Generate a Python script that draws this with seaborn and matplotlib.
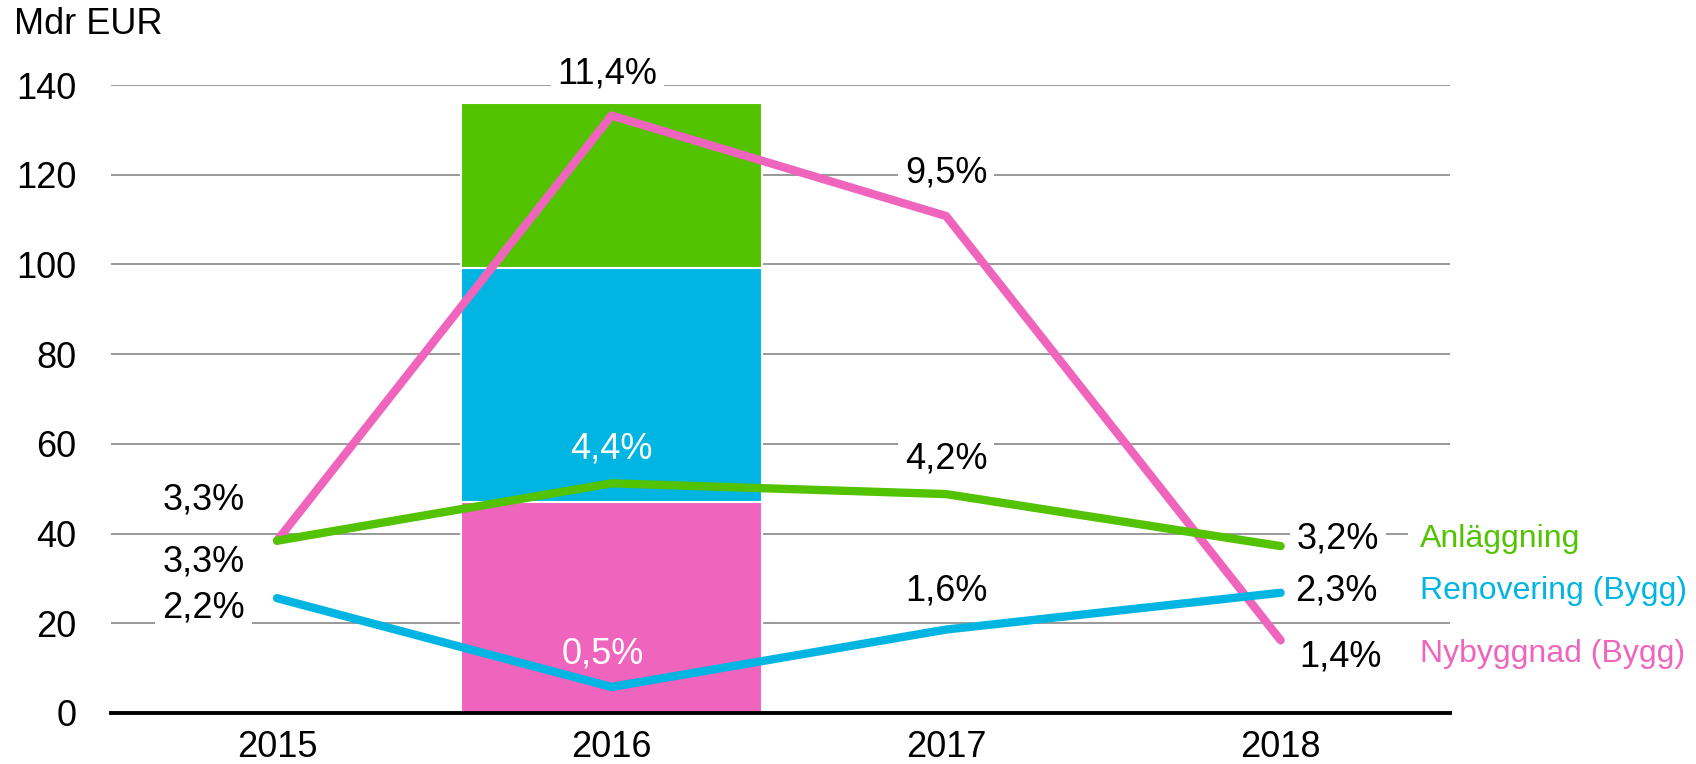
import matplotlib
matplotlib.use("Agg")
import matplotlib.pyplot as plt
import numpy as np
import pandas as pd
import seaborn as sns

# chart data
years = ["2015", "2016", "2017", "2018"]
series_names = ["Nybyggnad (Bygg)", "Anläggning", "Renovering (Bygg)"]
nybyggnad = [38.4, 133.2, 110.8, 16.2]
anlaggning = [38.4, 51.2, 48.8, 37.2]
renovering = [25.6, 5.8, 18.6, 26.8]
nybyggnad_labels = ["3,3%", "11,4%", "9,5%", "1,4%"]
anlaggning_labels = ["3,3%", "4,4%", "4,2%", "3,2%"]
renovering_labels = ["2,2%", "0,5%", "1,6%", "2,3%"]

# stacked bar for 2016 (bottom -> top)
bar_year = "2016"
bar_segments = [47.1, 52.1, 36.9]  # Nybyggnad, Renovering, Anläggning

GREEN = "#53C200"
BLUE = "#00B5E2"
PINK = "#EF65BD"
FS = 26

sns.set_style("white")
plt.rcParams["font.family"] = ["Liberation Sans", "DejaVu Sans"]

fig = plt.figure(figsize=(16.96, 7.64), dpi=100)
ax = fig.add_axes([0.0657, 0.0668, 0.789, 0.8219])

# stacked bar: draw cumulative totals from tallest to shortest
cum = np.cumsum(bar_segments)
for total, color in zip(cum[::-1], [GREEN, BLUE, PINK]):
    sns.barplot(
        ax=ax,
        x=[bar_year],
        y=[total],
        order=years,
        color=color,
        width=0.9,
        edgecolor="white",
        linewidth=1.5,
        saturation=1,
        zorder=2,
    )

# lines
xpos = np.arange(len(years))
lines_df = pd.DataFrame({"x": xpos, "nyb": nybyggnad, "anl": anlaggning, "ren": renovering})
for col, color in [("nyb", PINK), ("anl", GREEN), ("ren", BLUE)]:
    sns.lineplot(ax=ax, data=lines_df, x="x", y=col, color=color, linewidth=6,
                 solid_capstyle="round", zorder=3, clip_on=False)

# value labels (offsets in points)
box = dict(facecolor="white", edgecolor="none", pad=5)
def put_labels(values, labels, offsets, colors):
    for i, (v, lab, off, c) in enumerate(zip(values, labels, offsets, colors)):
        ax.annotate(lab, (i, v), xytext=off, textcoords="offset points",
                    ha="center", va="center", fontsize=FS, color=c,
                    bbox=None if c == "white" else box, zorder=4)

put_labels(anlaggning, anlaggning_labels,
           [(-53, 29), (0, 25), (0, 25), (41, 5)], ["black", "white", "black", "black"])
put_labels(renovering, renovering_labels,
           [(-53, -7), (-6, 24), (0, 28), (40, 1)], ["black", "white", "black", "black"])
put_labels(nybyggnad, nybyggnad_labels,
           [(-53, -15), (-3, 30), (0, 31), (43, -12)], ["black", "black", "black", "black"])

# series names to the right of the last points
name_box = dict(facecolor="white", edgecolor="none", pad=8)
for vals, name, color, dy in [(anlaggning, series_names[1], GREEN, 5),
                              (renovering, series_names[2], BLUE, 1),
                              (nybyggnad, series_names[0], PINK, -10)]:
    ax.annotate(name, (len(years) - 1, vals[-1]), xytext=(100, dy),
                textcoords="offset points", ha="left", va="center",
                fontsize=FS - 3, color=color, annotation_clip=False,
                bbox=name_box, zorder=4)

# axes styling
ax.set_xlim(-0.495, 3.505)
ax.set_ylim(0, 140)
ax.set_yticks(np.arange(0, 141, 20))
ax.yaxis.grid(True, color="#999999", linewidth=1.4)
ax.set_axisbelow(True)
ax.set_xticks(xpos)
ax.set_xticklabels(years)
ax.tick_params(axis="y", length=0, pad=25, labelsize=FS, labelcolor="black")
ax.tick_params(axis="x", length=0, pad=12, labelsize=FS, labelcolor="black")
ax.set_xlabel("")
ax.set_ylabel("")
for side in ["top", "right", "left"]:
    ax.spines[side].set_visible(False)
ax.spines["bottom"].set_color("black")
ax.spines["bottom"].set_linewidth(2.8)
ax.spines["bottom"].set_zorder(5)

fig.text(0.008, 1 - 24 / 764, "Mdr EUR", fontsize=FS, va="center", ha="left", color="black")

fig.savefig("out.png", dpi=100)
